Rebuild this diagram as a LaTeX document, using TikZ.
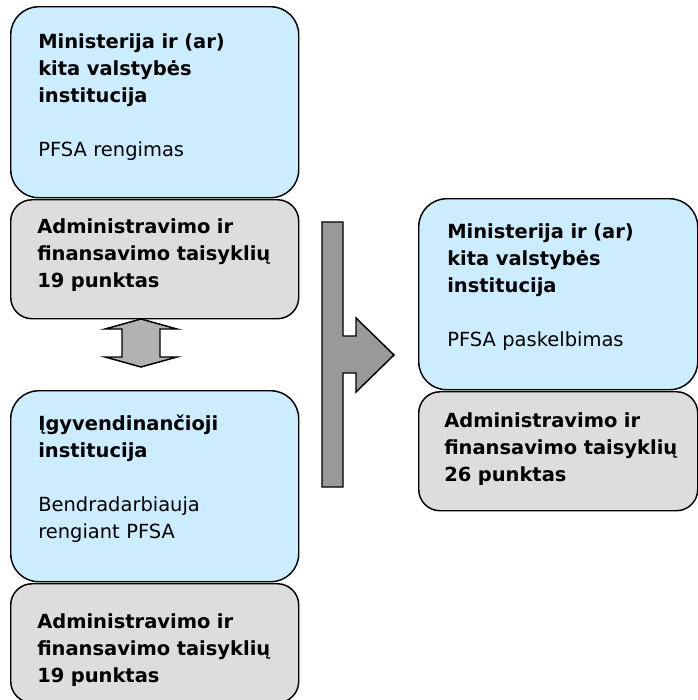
\documentclass[tikz,border=0pt]{standalone}
\usepackage{fontspec}
\setmainfont{DejaVu Sans}
\usetikzlibrary{positioning}

\definecolor{stageblue}{HTML}{CCECFF}
\definecolor{refgray}{HTML}{DDDDDD}
\definecolor{swapgray}{HTML}{B2B2B2}
\definecolor{flowgray}{HTML}{999999}

\begin{document}
\begin{tikzpicture}[x=0.75pt, y=-0.75pt]
\tikzset{stage/.style =
        {
            draw=black,
            line width=1.1pt,
            fill=stageblue,
            rounded corners=21pt,
            inner sep=0pt,
            anchor=north west,
            minimum height=143.25pt
        }
}

\tikzset{ref/.style =
        {
            stage,
            fill=refgray,
            rounded corners=16pt,
            minimum height=89.25pt
        }
}

\tikzset{label/.style =
        {
            anchor=base west,
            inner sep=0pt,
            text width=240pt,
            align=left,
            font=\fontsize{14.6}{20.25}\selectfont
        }
}

\tikzset{shape arrow/.style = {
            draw=black,
            line width=1.1pt,
            line join=miter
        }
}

\useasboundingbox (0,0) rectangle (698,700);

% left column
\node[stage, minimum width=216pt] (min-box) at (10,6) {};
\node[ref, minimum width=216pt] (min-ref) at (10,199) {};
\node[stage, minimum width=216pt] (ia-box) at (10,390) {};
\node[ref, minimum width=216pt] (ia-ref) at (10,583) {};

% right column
\node[stage, minimum width=209.25pt] (pub-box) at (418,198) {};
\node[ref, minimum width=209.25pt] (pub-ref) at (418,391) {};

\node[label] (min-txt) at (38,48) {\textbf{Ministerija ir (ar)\\kita valstybės\\institucija}\\[20.25pt]PFSA rengimas};
\node[label] (min-ref-txt) at (37,233) {\textbf{Administravimo ir\\finansavimo taisyklių\\19 punktas}};
\node[label] (ia-txt) at (38,430) {\textbf{Įgyvendinančioji\\institucija}\\[20.25pt]Bendradarbiauja\\rengiant PFSA};
\node[label] (ia-ref-txt) at (37,628) {\textbf{Administravimo ir\\finansavimo taisyklių\\19 punktas}};
\node[label] (pub-txt) at (447,238) {\textbf{Ministerija ir (ar)\\kita valstybės\\institucija}\\[20.25pt]PFSA paskelbimas};
\node[label] (pub-ref-txt) at (444,427) {\textbf{Administravimo ir\\finansavimo taisyklių\\26 punktas}};

% block arrows
\draw[shape arrow, fill=swapgray] (141,319) -- (177,329) -- (160,329) -- (160,357) -- (177,357)
    -- (141,367) -- (105,357) -- (122,357) -- (122,329) -- (105,329) -- cycle;

\draw[shape arrow, fill=flowgray] (322,222) -- (343,222) -- (343,336) -- (356,336) -- (356,318)
    -- (394,355) -- (356,392) -- (356,373) -- (343,373) -- (343,487) -- (322,487) -- cycle;

\end{tikzpicture}
\end{document}
